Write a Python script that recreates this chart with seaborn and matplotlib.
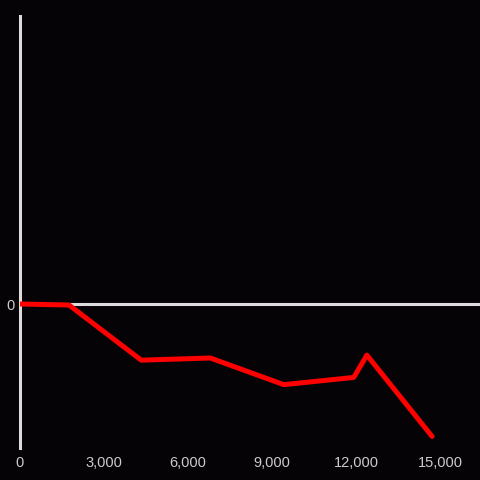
import matplotlib
matplotlib.use("Agg")
import matplotlib.pyplot as plt
import seaborn as sns
import pandas as pd

x_vals = [0, 1750, 4330, 6800, 9420, 11920, 12390, 14720]
y_vals = [0, -0.7, -39, -37.5, -56, -51, -35.5, -92]
x_ticks = [0, 3000, 6000, 9000, 12000, 15000]
x_tick_labels = ["0", "3,000", "6,000", "9,000", "12,000", "15,000"]
y_ticks = [0]
y_tick_labels = ["0"]

sns.set_style("dark")
plt.rcParams['font.family'] = ['Liberation Sans', 'DejaVu Sans']

bg = "#050306"
fig = plt.figure(figsize=(4.8, 4.8), dpi=100, facecolor=bg)
ax = fig.add_axes([20/480, 32/480, 460/480, 432/480])
ax.set_facecolor(bg)
ax.grid(False)

df = pd.DataFrame({"x": x_vals, "y": y_vals})
ax.axhline(0, color="#dcdcdc", lw=2.2, zorder=1)
sns.lineplot(data=df, x="x", y="y", ax=ax, color="#ff0000", lw=3.6, zorder=3, sort=False)

ax.set_xlim(0, 16430)
ax.set_ylim(-100, 200)
ax.set_xticks(x_ticks)
ax.set_xticklabels(x_tick_labels)
ax.set_yticks(y_ticks)
ax.set_yticklabels(y_tick_labels)
ax.tick_params(axis="both", length=0, colors="#cccccc", labelsize=10.5)
ax.tick_params(axis="x", pad=6)
ax.tick_params(axis="y", pad=4)
ax.set_xlabel("")
ax.set_ylabel("")

for s in ["top", "right", "bottom"]:
    ax.spines[s].set_visible(False)
ax.spines["left"].set_visible(True)
ax.spines["left"].set_color("#dcdcdc")
ax.spines["left"].set_linewidth(2.2)

fig.savefig("out.png", dpi=100, facecolor=bg)
